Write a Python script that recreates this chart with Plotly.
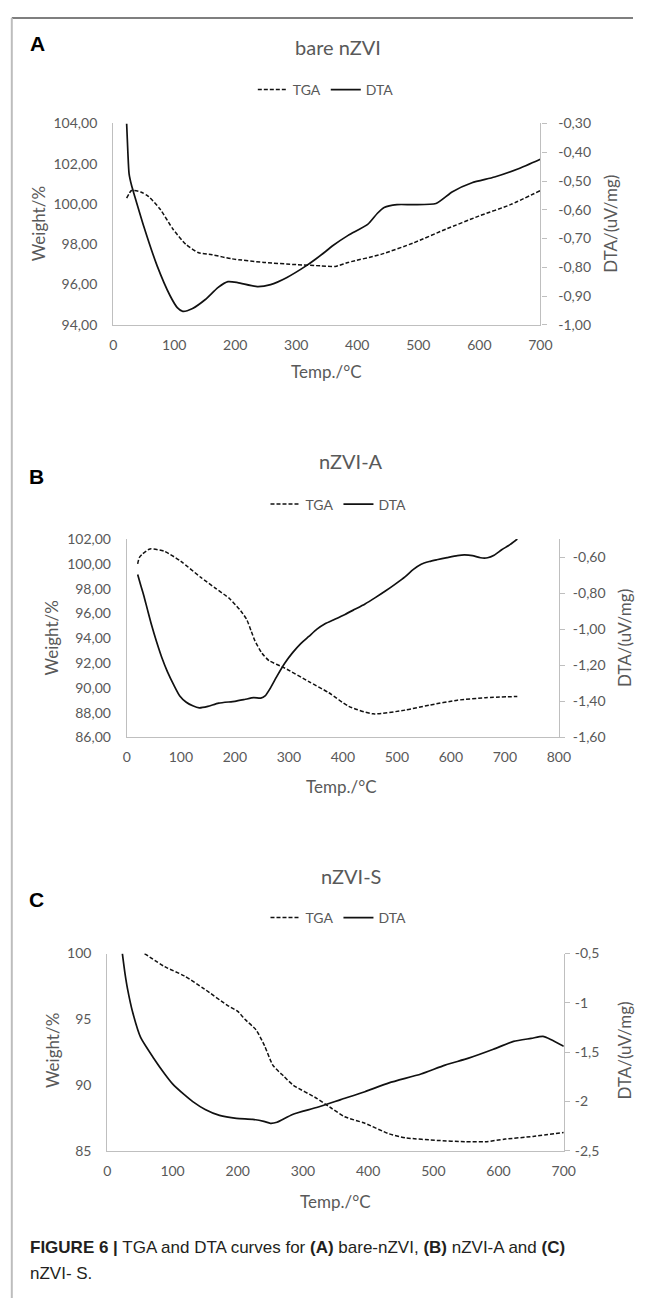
import plotly.graph_objects as go

W, H = 645, 1306

# ---------------- data ----------------
# Panel A: bare nZVI
a_tga_t = [22, 30, 45, 58, 77, 98, 119, 140, 162, 194, 247, 300, 340, 364, 385, 439, 492, 545, 599, 652, 700]
a_tga_w = [100.29, 100.67, 100.6, 100.37, 99.74, 98.75, 98.0, 97.58, 97.48, 97.28, 97.1, 96.99, 96.93, 96.9, 97.1,
           97.5, 98.07, 98.75, 99.4, 99.98, 100.67]
a_dta_t = [22, 24, 26, 30, 34, 50, 72, 93, 105, 114, 130, 151, 172, 188, 204, 236, 258, 284, 316, 332, 348, 359,
           385, 417, 433, 444, 465, 492, 529, 556, 588, 625, 663, 700]
a_dta_v = [-0.30, -0.40, -0.475, -0.515, -0.544, -0.657, -0.795, -0.898, -0.94, -0.953, -0.943, -0.912, -0.87,
           -0.85, -0.853, -0.867, -0.86, -0.836, -0.795, -0.771, -0.745, -0.726, -0.689, -0.651, -0.612, -0.592,
           -0.582, -0.582, -0.578, -0.537, -0.506, -0.486, -0.458, -0.424]

# Panel B: nZVI-A
b_tga_t = [20, 23, 29, 43, 70, 100, 137, 165, 190, 211, 222, 230, 237, 250, 263, 292, 337, 374, 411, 456, 515, 560,
           612, 664, 723]
b_tga_w = [100.0, 100.5, 100.8, 101.2, 101.0, 100.2, 98.9, 98.0, 97.2, 96.2, 95.5, 94.6, 93.8, 92.8, 92.2, 91.6,
           90.5, 89.6, 88.5, 87.9, 88.2, 88.6, 89.0, 89.2, 89.3]
b_dta_t = [20, 25, 31, 38, 46, 55, 65, 75, 87, 98, 110, 122, 134, 150, 170, 200, 218, 235, 248, 256, 265, 278, 292,
           307, 322, 337, 352, 367, 385, 404, 422, 441, 460, 478, 497, 515, 530, 545, 560, 574, 593, 612, 625, 640,
           655, 668, 680, 694, 710, 723]
b_dta_v = [-0.697, -0.75, -0.81, -0.89, -0.98, -1.07, -1.16, -1.235, -1.31, -1.37, -1.405, -1.425, -1.436, -1.428,
           -1.41, -1.40, -1.39, -1.38, -1.382, -1.37, -1.33, -1.26, -1.19, -1.13, -1.08, -1.04, -1.00, -0.97,
           -0.945, -0.918, -0.89, -0.86, -0.825, -0.79, -0.75, -0.71, -0.67, -0.64, -0.625, -0.615, -0.603, -0.592,
           -0.588, -0.592, -0.604, -0.604, -0.59, -0.56, -0.53, -0.5]

# Panel C: nZVI-S
c_tga_t = [57, 88, 118, 149, 183, 200, 211, 228, 241, 254, 270, 285, 321, 345, 364, 395, 432, 457, 506, 549, 580,
           610, 653, 700]
c_tga_w = [100.0, 99.0, 98.3, 97.3, 96.1, 95.6, 95.0, 94.2, 93.0, 91.5, 90.7, 90.0, 89.0, 88.2, 87.6, 87.1, 86.3,
           86.0, 85.8, 85.7, 85.7, 85.9, 86.1, 86.4]
c_dta_t = [23, 27, 31, 39, 51, 71, 88, 100, 118, 131, 150, 172, 198, 223, 240, 250, 260, 284, 321, 358, 395, 432,
           481, 518, 554, 592, 623, 650, 668, 680, 700]
c_dta_v = [-0.5, -0.7, -0.86, -1.1, -1.35, -1.56, -1.72, -1.82, -1.93, -2.0, -2.08, -2.14, -2.17, -2.18, -2.2,
           -2.22, -2.21, -2.13, -2.06, -1.98, -1.9, -1.81, -1.72, -1.63, -1.56, -1.47, -1.39, -1.36, -1.34, -1.37,
           -1.44]

# tick labels
a_x_ticks = [0, 100, 200, 300, 400, 500, 600, 700]
a_yl_ticks = [94, 96, 98, 100, 102, 104]
a_yl_text = ["94,00", "96,00", "98,00", "100,00", "102,00", "104,00"]
a_yr_ticks = [-1.0, -0.9, -0.8, -0.7, -0.6, -0.5, -0.4, -0.3]
a_yr_text = ["-1,00", "-0,90", "-0,80", "-0,70", "-0,60", "-0,50", "-0,40", "-0,30"]

b_x_ticks = [0, 100, 200, 300, 400, 500, 600, 700, 800]
b_yl_ticks = [86, 88, 90, 92, 94, 96, 98, 100, 102]
b_yl_text = ["86,00", "88,00", "90,00", "92,00", "94,00", "96,00", "98,00", "100,00", "102,00"]
b_yr_ticks = [-1.6, -1.4, -1.2, -1.0, -0.8, -0.6]
b_yr_text = ["-1,60", "-1,40", "-1,20", "-1,00", "-0,80", "-0,60"]

c_x_ticks = [0, 100, 200, 300, 400, 500, 600, 700]
c_yl_ticks = [85, 90, 95, 100]
c_yl_text = ["85", "90", "95", "100"]
c_yr_ticks = [-2.5, -2.0, -1.5, -1.0, -0.5]
c_yr_text = ["-2,5", "-2", "-1,5", "-1", "-0,5"]

panel_titles = ["bare nZVI", "nZVI-A", "nZVI-S"]
panel_letters = ["A", "B", "C"]

# ---------------- styling ----------------
FONT = "Lato, Calibri, Carlito, sans-serif"
GREY = "#595959"
AXIS = "#bfbfbf"


def px(x):
    return x / W


def py(y):
    return 1 - y / H


fig = go.Figure()

panels = [
    dict(tga=(a_tga_t, a_tga_w), dta=(a_dta_t, a_dta_v), box=(112, 550, 116, 320),
         xr=[0, 700], xt=a_x_ticks, yl=[94, 104], ylt=(a_yl_ticks, a_yl_text),
         yr=[-1.0, -0.3], yrt=(a_yr_ticks, a_yr_text), rstand=9,
         title=(342, 38), letter=(34, 35), legend=(330, 82),
         ytitle_l=(35, 218), ytitle_r=(622, 218), xtitle=(331, 367)),
    dict(tga=(b_tga_t, b_tga_w), dta=(b_dta_t, b_dta_v), box=(126, 569, 537, 738),
         xr=[0, 800], xt=b_x_ticks, yl=[86, 102], ylt=(b_yl_ticks, b_yl_text),
         yr=[-1.6, -0.5], yrt=(b_yr_ticks, b_yr_text), rstand=5,
         title=(356, 458), letter=(33, 474), legend=(343, 502),
         ytitle_l=(49, 637), ytitle_r=(636, 637), xtitle=(346, 788)),
    dict(tga=(c_tga_t, c_tga_w), dta=(c_dta_t, c_dta_v), box=(106, 574, 957, 1157),
         xr=[0, 700], xt=c_x_ticks, yl=[85, 100], ylt=(c_yl_ticks, c_yl_text),
         yr=[-2.5, -0.5], yrt=(c_yr_ticks, c_yr_text), rstand=2,
         title=(356, 878), letter=(33, 902), legend=(343, 921),
         ytitle_l=(49, 1055), ytitle_r=(636, 1055), xtitle=(340, 1208)),
]

annotations = []
layout_axes = {}
for i, p in enumerate(panels):
    n = i + 1
    xname = "x" if n == 1 else f"x{n}"
    yl_name = "y" if n == 1 else f"y{2 * n - 1}"
    yr_name = f"y{2 * n}"
    leg = "legend" if n == 1 else f"legend{n}"

    fig.add_trace(go.Scatter(x=p["tga"][0], y=p["tga"][1], mode="lines", name="TGA",
                             line=dict(color="#111111", width=1.5, dash="4px,2px", shape="spline",
                                       smoothing=0.6),
                             xaxis=xname, yaxis=yl_name, legend=leg))
    fig.add_trace(go.Scatter(x=p["dta"][0], y=p["dta"][1], mode="lines", name="DTA",
                             line=dict(color="#111111", width=1.7, shape="spline", smoothing=0.6),
                             xaxis=xname, yaxis=yr_name, legend=leg))

    x0, x1, y0, y1 = p["box"]
    xkey = "xaxis" if n == 1 else f"xaxis{n}"
    ylkey = "yaxis" if n == 1 else f"yaxis{2 * n - 1}"
    yrkey = f"yaxis{2 * n}"
    tickfont = dict(family=FONT, size=14, color=GREY)
    layout_axes[xkey] = dict(domain=[px(x0), px(x1)], anchor=yl_name, range=p["xr"], tickvals=p["xt"],
                             showline=True, linecolor=AXIS, linewidth=1.3, showgrid=False, zeroline=False,
                             ticks="outside", ticklen=7, tickcolor="rgba(0,0,0,0)", tickfont=tickfont,
                             fixedrange=True)
    layout_axes[ylkey] = dict(domain=[py(y1), py(y0)], anchor=xname, range=p["yl"], tickvals=p["ylt"][0],
                              ticktext=p["ylt"][1], showline=True, linecolor=AXIS, linewidth=1.3,
                              showgrid=False, zeroline=False, ticks="outside", ticklen=12,
                              tickcolor="rgba(0,0,0,0)", tickfont=tickfont, fixedrange=True)
    layout_axes[yrkey] = dict(overlaying=yl_name, anchor=xname, side="right", range=p["yr"],
                              tickvals=p["yrt"][0], ticktext=p["yrt"][1], showline=True, linecolor=AXIS,
                              linewidth=1.3, showgrid=False, zeroline=False, ticks="outside", ticklen=5,
                              tickcolor=AXIS, tickwidth=1.3, ticklabelstandoff=p["rstand"],
                              tickfont=tickfont, fixedrange=True)

    lx, ly = p["legend"]
    layout_axes[leg] = dict(orientation="h", x=px(lx), y=py(ly), xanchor="center", yanchor="middle",
                            font=dict(family=FONT, size=14, color=GREY), bgcolor="rgba(0,0,0,0)",
                            itemwidth=30, tracegroupgap=0)

    tx, ty = p["title"]
    annotations.append(dict(text=panel_titles[i], x=px(tx), y=py(ty), xref="paper", yref="paper",
                            xanchor="center", yanchor="middle", showarrow=False,
                            font=dict(family=FONT, size=20, color=GREY)))
    lx2, ly2 = p["letter"]
    annotations.append(dict(text=f"<b>{panel_letters[i]}</b>", x=px(lx2), y=py(ly2), xref="paper", yref="paper",
                            xanchor="center", yanchor="middle", showarrow=False,
                            font=dict(family="Liberation Sans, Arial, sans-serif", size=21, color="#000000")))
    ax, ay = p["ytitle_l"]
    annotations.append(dict(text="Weight/%", x=px(ax), y=py(ay), xref="paper", yref="paper", textangle=-90,
                            xanchor="center", yanchor="middle", showarrow=False,
                            font=dict(family=FONT, size=17, color=GREY)))
    ax, ay = p["ytitle_r"]
    annotations.append(dict(text="DTA/(uV/mg)", x=px(ax), y=py(ay), xref="paper", yref="paper", textangle=-90,
                            xanchor="center", yanchor="middle", showarrow=False,
                            font=dict(family=FONT, size=17, color=GREY)))
    ax, ay = p["xtitle"]
    annotations.append(dict(text="Temp./°C", x=px(ax), y=py(ay), xref="paper", yref="paper",
                            xanchor="center", yanchor="middle", showarrow=False,
                            font=dict(family=FONT, size=17, color=GREY)))

CAP_FONT = dict(family="Liberation Sans, Arial, sans-serif", size=17, color="#231f20")
annotations.append(dict(text="<b>FIGURE 6 |</b> TGA and DTA curves for <b>(A)</b> bare-nZVI, <b>(B)</b> nZVI-A and <b>(C)</b>",
                        x=px(25), y=py(1255), xref="paper", yref="paper", xanchor="left", yanchor="middle",
                        showarrow=False, font=CAP_FONT))
annotations.append(dict(text="nZVI- S.", x=px(25), y=py(1281), xref="paper", yref="paper", xanchor="left",
                        yanchor="middle", showarrow=False, font=CAP_FONT))

shapes = [
    dict(type="line", xref="paper", yref="paper", x0=px(8), x1=1, y0=py(9), y1=py(9),
         line=dict(color="#7f7f7f", width=2)),
    dict(type="line", xref="paper", yref="paper", x0=px(8), x1=px(8), y0=py(9), y1=0,
         line=dict(color="#bdbdbd", width=2)),
]

fig.update_layout(width=W, height=H, margin=dict(l=0, r=0, t=0, b=0), paper_bgcolor="white",
                  plot_bgcolor="rgba(0,0,0,0)", showlegend=True, annotations=annotations, shapes=shapes,
                  **layout_axes)

fig.write_html("out.html", config={"displayModeBar": False},
               post_script="document.body.style.margin='0';")
